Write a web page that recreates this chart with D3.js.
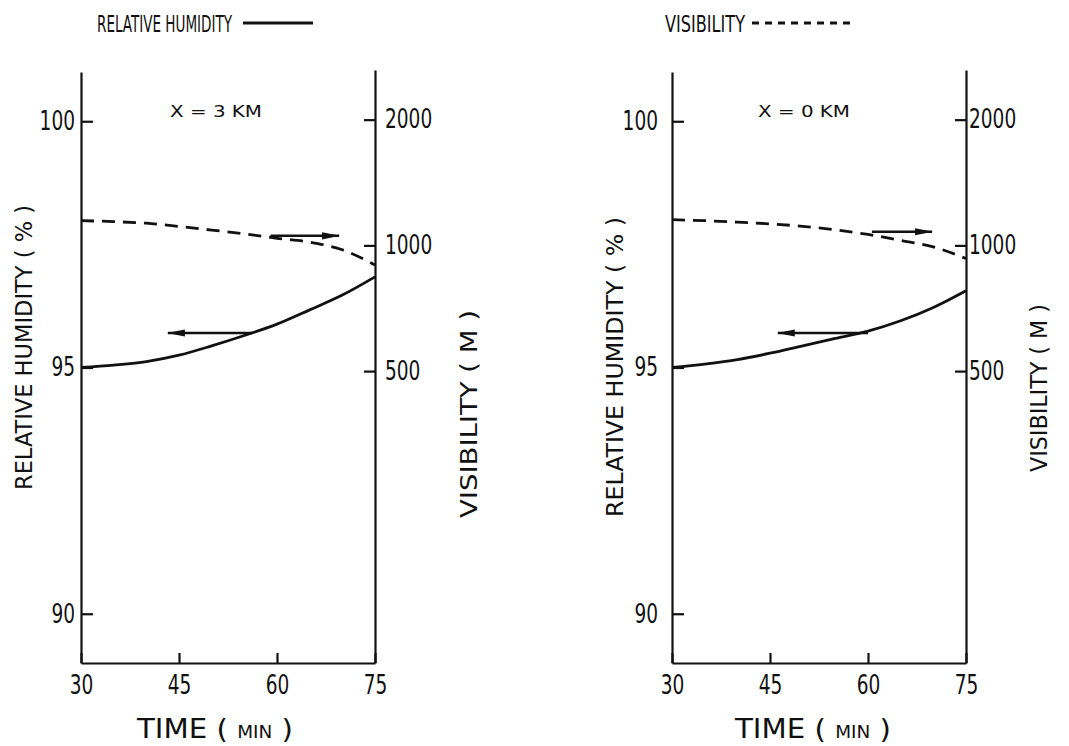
<!DOCTYPE html>
<html>
<head>
<meta charset="utf-8">
<script src="https://cdn.jsdelivr.net/npm/d3@7"></script>
<style>
  html, body { margin: 0; padding: 0; background: #fff; }
  svg text { font-family: "DejaVu Sans Condensed", "DejaVu Sans", sans-serif; fill: #111; }
</style>
</head>
<body>
<svg id="chart" width="1069" height="746"></svg>
<script>
// Time after onset (min)
const times = [30, 35, 40, 45, 50, 55, 60, 65, 70, 75];

// x = 3 km
const rhX3  = [95.00, 95.05, 95.12, 95.25, 95.44, 95.65, 95.88, 96.17, 96.47, 96.84];
const visX3 = [1146, 1140, 1130, 1110, 1088, 1066, 1040, 1018, 976, 898];

// x = 0 km
const rhX0  = [95.00, 95.07, 95.16, 95.29, 95.44, 95.59, 95.74, 95.95, 96.22, 96.56];
const visX0 = [1152, 1146, 1137, 1126, 1111, 1090, 1062, 1028, 992, 930];

// Pointer arrows: [from time, to time, value on the axis they point to]
const rhArrowX3  = [56.2, 43.3, 95.70];
const visArrowX3 = [59.0, 69.5, 1054];
const rhArrowX0  = [60.0, 46.2, 95.70];
const visArrowX0 = [60.6, 69.8, 1078];

// Axis ticks
const timeTicks = [30, 45, 60, 75];
const rhTicks   = [90, 95, 100];
const visTicks  = [500, 1000, 2000];

const panelTitles = ["X = 3 KM", "X = 0 KM"];
const legendRH  = "RELATIVE HUMIDITY";
const legendVis = "VISIBILITY";

const svg = d3.select("#chart");
const INK = "#111";

// Squeeze a text element horizontally to a given width (condensed typewriter look)
function fit(sel, width) {
  sel.attr("textLength", width).attr("lengthAdjust", "spacingAndGlyphs");
  return sel;
}

// arrow head
svg.append("defs").append("marker")
  .attr("id", "head")
  .attr("viewBox", "0 -4 18 8")
  .attr("markerUnits", "userSpaceOnUse")
  .attr("markerWidth", 18).attr("markerHeight", 8)
  .attr("refX", 17).attr("refY", 0)
  .attr("orient", "auto")
  .append("path").attr("d", "M0,-3.6 L18,0 L0,3.6 Z").attr("fill", INK);

// ---- legend ----
fit(svg.append("text").attr("x", 97).attr("y", 32).attr("font-size", 23).text(legendRH), 135);
svg.append("line").attr("x1", 243).attr("x2", 313).attr("y1", 23).attr("y2", 23)
  .attr("stroke", INK).attr("stroke-width", 3);
fit(svg.append("text").attr("x", 665).attr("y", 32).attr("font-size", 23).text(legendVis), 80);
svg.append("line").attr("x1", 752).attr("x2", 856).attr("y1", 23).attr("y2", 23)
  .attr("stroke", INK).attr("stroke-width", 3).attr("stroke-dasharray", "7,6");

const panels = [
  { left: 81,  rh: rhX3, vis: visX3, title: panelTitles[0], rhArrow: rhArrowX3, visArrow: visArrowX3,
    leftPad: 6, rightPad: 10, titleX: 170,
    rhLabel: { x: 32, y0: 490, len: 285 }, visLabel: { x: 477, y0: 518, len: 208 },
    timeLabelX: 137 },
  { left: 672, rh: rhX0, vis: visX0, title: panelTitles[1], rhArrow: rhArrowX0, visArrow: visArrowX0,
    leftPad: 14, rightPad: 3, titleX: 758,
    rhLabel: { x: 623, y0: 517, len: 300 }, visLabel: { x: 1047, y0: 472, len: 168 },
    timeLabelX: 735 }
];

const W = 294, BOTTOM = 663;

panels.forEach(p => {
  const g = svg.append("g").attr("transform", `translate(${p.left},0)`);

  const x = d3.scaleLinear().domain([30, 75]).range([0, W]);
  const yRH = d3.scaleLinear().domain([89, 101]).range([BOTTOM, 72]);
  const yVis = d3.scaleLog().domain([100, 2630]).range([BOTTOM, 70]);

  // axes
  const axL = g.append("g").call(d3.axisLeft(yRH).tickValues(rhTicks).tickFormat(d3.format("d"))
    .tickSizeInner(-12).tickSizeOuter(0).tickPadding(p.leftPad));
  const axR = g.append("g").attr("transform", `translate(${W},0)`)
    .call(d3.axisRight(yVis).tickValues(visTicks).tickFormat(d3.format("d"))
    .tickSizeInner(-11).tickSizeOuter(0).tickPadding(p.rightPad));
  const axB = g.append("g").attr("transform", `translate(0,${BOTTOM})`)
    .call(d3.axisBottom(x).tickValues(timeTicks).tickFormat(d3.format("d"))
    .tickSizeInner(-10).tickSizeOuter(0).tickPadding(0));

  [axL, axR, axB].forEach(a => {
    a.select(".domain").attr("stroke", INK).attr("stroke-width", 2.2);
    a.selectAll(".tick line").attr("stroke", INK).attr("stroke-width", 2.2);
    a.selectAll(".tick text").attr("font-size", 26).attr("fill", INK)
      .attr("font-family", "\"DejaVu Sans Condensed\", \"DejaVu Sans\", sans-serif")
      .each(function () {
        const t = d3.select(this);
        fit(t, t.text().length * 11.8);
      });
  });
  axB.selectAll(".tick text").attr("y", 31).attr("dy", 0);

  // curves
  const rhLine = d3.line().x((d, i) => x(times[i])).y(d => yRH(d)).curve(d3.curveMonotoneX);
  const visLine = d3.line().x((d, i) => x(times[i])).y(d => yVis(d)).curve(d3.curveMonotoneX);

  g.append("path").attr("d", rhLine(p.rh))
    .attr("fill", "none").attr("stroke", INK).attr("stroke-width", 2.8);
  g.append("path").attr("d", visLine(p.vis))
    .attr("fill", "none").attr("stroke", INK).attr("stroke-width", 2.8)
    .attr("stroke-dasharray", "13,8");

  // pointer arrows
  g.append("line")
    .attr("x1", x(p.rhArrow[0])).attr("x2", x(p.rhArrow[1]))
    .attr("y1", yRH(p.rhArrow[2])).attr("y2", yRH(p.rhArrow[2]))
    .attr("stroke", INK).attr("stroke-width", 2.5).attr("marker-end", "url(#head)");
  g.append("line")
    .attr("x1", x(p.visArrow[0])).attr("x2", x(p.visArrow[1]))
    .attr("y1", yVis(p.visArrow[2])).attr("y2", yVis(p.visArrow[2]))
    .attr("stroke", INK).attr("stroke-width", 2.5).attr("marker-end", "url(#head)");

  // panel title
  fit(svg.append("text").attr("x", p.titleX).attr("y", 117).attr("font-size", 15).text(p.title), 92);

  // time axis title
  const tt = svg.append("text").attr("x", p.timeLabelX).attr("y", 738).attr("font-size", 27);
  tt.append("tspan").text("TIME  ( ");
  tt.append("tspan").attr("font-size", 17).text("MIN");
  tt.append("tspan").text(" )");
  fit(tt, 156);

  // vertical titles
  fit(svg.append("text").attr("transform", `translate(${p.rhLabel.x},${p.rhLabel.y0}) rotate(-90)`)
    .attr("font-size", 23).text("RELATIVE HUMIDITY  ( % )"), p.rhLabel.len);
  fit(svg.append("text").attr("transform", `translate(${p.visLabel.x},${p.visLabel.y0}) rotate(-90)`)
    .attr("font-size", 23).text("VISIBILITY  ( M )"), p.visLabel.len);
});
</script>
</body>
</html>
